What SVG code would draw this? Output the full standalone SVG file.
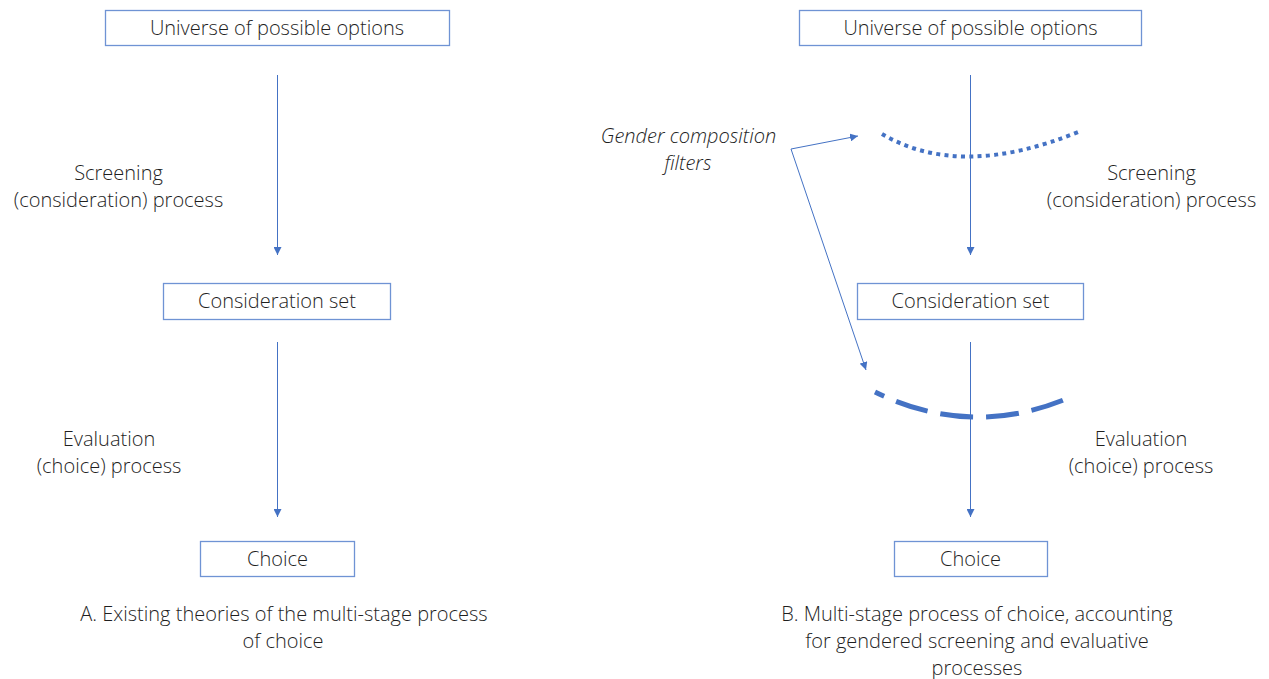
<svg xmlns="http://www.w3.org/2000/svg" width="1269" height="679" viewBox="0 0 1269 679">
<defs>
<style>
.box{fill:#fff;stroke:#6f93d4;stroke-width:1.3}
.t{font-family:"Open Sans","Noto Sans",sans-serif;font-weight:300;font-size:20px;fill:#1f1f1f}
.c{text-anchor:middle}
.ln{stroke:#4472c4;stroke-width:1;fill:none}
</style>
<marker id="ah" viewBox="0 0 10 10" refX="10" refY="5" markerWidth="8" markerHeight="8" markerUnits="userSpaceOnUse" orient="auto">
<path d="M0,0 L10,5 L0,10 z" fill="#4472c4"/>
</marker>
<marker id="ahs" viewBox="0 0 10 10" refX="0" refY="5" markerWidth="8" markerHeight="8" markerUnits="userSpaceOnUse" orient="auto">
<path d="M10,0 L0,5 L10,10 z" fill="#4472c4"/>
</marker>
</defs>
<rect width="1269" height="679" fill="#fff"/>
<g id="connectors">
<line class="ln" x1="277.5" y1="75" x2="277.5" y2="255" marker-end="url(#ah)"/>
<line class="ln" x1="277.5" y1="342" x2="277.5" y2="517" marker-end="url(#ah)"/>
<line class="ln" x1="970.5" y1="75" x2="970.5" y2="255" marker-end="url(#ah)"/>
<line class="ln" x1="970.5" y1="342" x2="970.5" y2="517" marker-end="url(#ah)"/>
<polyline class="ln" points="858,136 791,149 866,370" marker-start="url(#ahs)" marker-end="url(#ah)"/>
<path d="M882,134 Q960,180 1078,132" fill="none" stroke="#4472c4" stroke-width="4" stroke-dasharray="4 4.3"/>
<path d="M875,392 Q969.5,438.5 1066,399" fill="none" stroke="#4472c4" stroke-width="5" stroke-dasharray="33 13" stroke-dashoffset="23"/>
</g>
<g id="left-universe"><rect class="box" x="105.5" y="10.5" width="344" height="35"/><text class="t c" x="277" y="35">Universe of possible options</text></g>
<g id="left-consideration"><rect class="box" x="163.5" y="283.5" width="227" height="36"/><text class="t c" x="277" y="308">Consideration set</text></g>
<g id="left-choice"><rect class="box" x="200.5" y="541.5" width="154" height="35"/><text class="t c" x="277.5" y="566">Choice</text></g>
<g id="right-universe"><rect class="box" x="799.5" y="10.5" width="342" height="35"/><text class="t c" x="970.5" y="35">Universe of possible options</text></g>
<g id="right-consideration"><rect class="box" x="857.5" y="283.5" width="226" height="36"/><text class="t c" x="970.5" y="308">Consideration set</text></g>
<g id="right-choice"><rect class="box" x="894.5" y="541.5" width="153" height="35"/><text class="t c" x="970.5" y="566">Choice</text></g>
<g id="labels">
<text class="t c" x="118.5" y="180">Screening</text>
<text class="t c" x="118.5" y="207">(consideration) process</text>
<text class="t c" x="109" y="446">Evaluation</text>
<text class="t c" x="109" y="473">(choice) process</text>
<text class="t c" x="1151.5" y="180">Screening</text>
<text class="t c" x="1151.5" y="207">(consideration) process</text>
<text class="t c" x="1141" y="446">Evaluation</text>
<text class="t c" x="1141" y="473">(choice) process</text>
<text class="t c" x="688.5" y="143" font-style="italic">Gender composition</text>
<text class="t c" x="688" y="170" font-style="italic">filters</text>
<text class="t c" x="284" y="621">A. Existing theories of the multi-stage process</text>
<text class="t c" x="283" y="648">of choice</text>
<text class="t c" x="977" y="621">B. Multi-stage process of choice, accounting</text>
<text class="t c" x="977" y="648">for gendered screening and evaluative</text>
<text class="t c" x="977" y="675">processes</text>
</g>
</svg>
